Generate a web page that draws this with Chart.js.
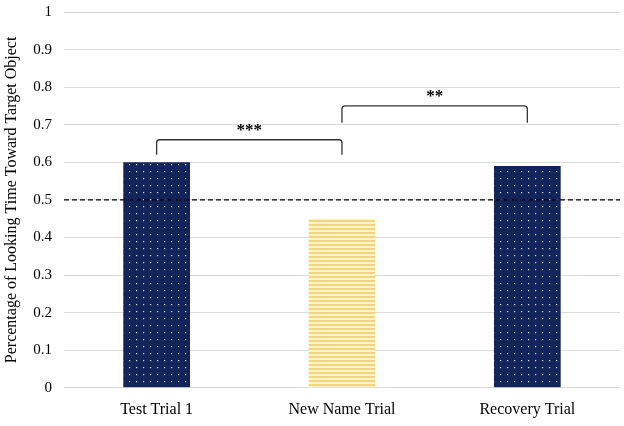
<!DOCTYPE html>
<html>
<head>
<meta charset="utf-8">
<script src="https://cdn.jsdelivr.net/npm/chart.js@4.4.1/dist/chart.umd.min.js"></script>
<style>
  html, body { margin: 0; padding: 0; background: #fff; }
  #wrap { width: 624px; height: 426px; }
</style>
</head>
<body>
<div id="wrap"><canvas id="chart"></canvas></div>
<script>
  var categories = ['Test Trial 1', 'New Name Trial', 'Recovery Trial'];
  var values = [0.60, 0.45, 0.59];
  var yTicks = [0, 0.1, 0.2, 0.3, 0.4, 0.5, 0.6, 0.7, 0.8, 0.9, 1];
  var chanceLevel = 0.5;
  // significance brackets: from category, to category, top, leg bottom, label
  var bracketFrom = [0, 1];
  var bracketTo = [1, 2];
  var bracketTop = [0.66, 0.75];
  var bracketLeg = [0.62, 0.705];
  var bracketLabel = ['***', '**'];

  function dotPattern() {
    var c = document.createElement('canvas');
    c.width = 7; c.height = 7;
    var x = c.getContext('2d');
    x.fillStyle = '#13245a';
    x.fillRect(0, 0, 7, 7);
    x.fillStyle = 'rgba(255,255,255,0.85)';
    x.fillRect(3, 3, 1.2, 1.2);
    return x.createPattern(c, 'repeat');
  }

  function stripePattern() {
    var c = document.createElement('canvas');
    c.width = 4; c.height = 4;
    var x = c.getContext('2d');
    x.fillStyle = '#fdf3cf';
    x.fillRect(0, 0, 4, 4);
    x.fillStyle = '#f4d67a';
    x.fillRect(0, 0, 4, 2);
    return x.createPattern(c, 'repeat');
  }

  var annotations = {
    id: 'annotations',
    afterDatasetsDraw: function(chart) {
      var ctx = chart.ctx;
      var xs = chart.scales.x;
      var ys = chart.scales.y;
      var area = chart.chartArea;
      ctx.save();
      // chance line
      ctx.strokeStyle = '#000';
      ctx.lineWidth = 1.3;
      ctx.setLineDash([5, 3]);
      ctx.beginPath();
      ctx.moveTo(area.left, ys.getPixelForValue(chanceLevel));
      ctx.lineTo(area.right, ys.getPixelForValue(chanceLevel));
      ctx.stroke();
      ctx.setLineDash([]);
      // brackets
      ctx.strokeStyle = '#333';
      ctx.lineWidth = 1.3;
      ctx.fillStyle = '#000';
      ctx.font = 'bold 17px "Liberation Serif"';
      ctx.textAlign = 'center';
      ctx.textBaseline = 'middle';
      for (var i = 0; i < bracketFrom.length; i++) {
        var x1 = xs.getPixelForValue(bracketFrom[i]);
        var x2 = xs.getPixelForValue(bracketTo[i]);
        var yt = ys.getPixelForValue(bracketTop[i]);
        var yl = ys.getPixelForValue(bracketLeg[i]);
        var r = 3;
        ctx.beginPath();
        ctx.moveTo(x1, yl);
        ctx.lineTo(x1, yt + r);
        ctx.quadraticCurveTo(x1, yt, x1 + r, yt);
        ctx.lineTo(x2 - r, yt);
        ctx.quadraticCurveTo(x2, yt, x2, yt + r);
        ctx.lineTo(x2, yl);
        ctx.stroke();
        ctx.fillText(bracketLabel[i], (x1 + x2) / 2, yt - 9);
      }
      ctx.restore();
    }
  };

  new Chart(document.getElementById('chart'), {
    type: 'bar',
    data: {
      labels: categories,
      datasets: [{
        data: values,
        backgroundColor: [dotPattern(), stripePattern(), dotPattern()],
        borderWidth: 0,
        categoryPercentage: 1,
        barPercentage: 0.36
      }]
    },
    options: {
      responsive: true,
      maintainAspectRatio: false,
      animation: false,
      layout: { padding: { left: 2, right: 4, top: 12, bottom: 3 } },
      plugins: {
        legend: { display: false },
        tooltip: { enabled: false }
      },
      scales: {
        x: {
          grid: { display: false },
          border: { display: false },
          ticks: {
            color: '#000',
            font: { family: 'Liberation Serif', size: 16 },
            padding: 4
          }
        },
        y: {
          min: 0,
          max: 1,
          afterBuildTicks: function(axis) {
            axis.ticks = yTicks.map(function(v) { return { value: v }; });
          },
          afterFit: function(axis) {
            axis.paddingTop = 0;
          },
          grid: { color: '#dcdcdc', lineWidth: 1, drawTicks: false },
          border: { display: false },
          ticks: {
            color: '#000',
            font: { family: 'Liberation Serif', size: 15 },
            padding: 12,
            callback: function(v) { return String(v); }
          },
          title: {
            display: true,
            text: 'Percentage of Looking Time Toward Target Object',
            color: '#000',
            font: { family: 'Liberation Serif', size: 16 },
            padding: { top: 0, bottom: 0 }
          }
        }
      }
    },
    plugins: [annotations]
  });
</script>
</body>
</html>
